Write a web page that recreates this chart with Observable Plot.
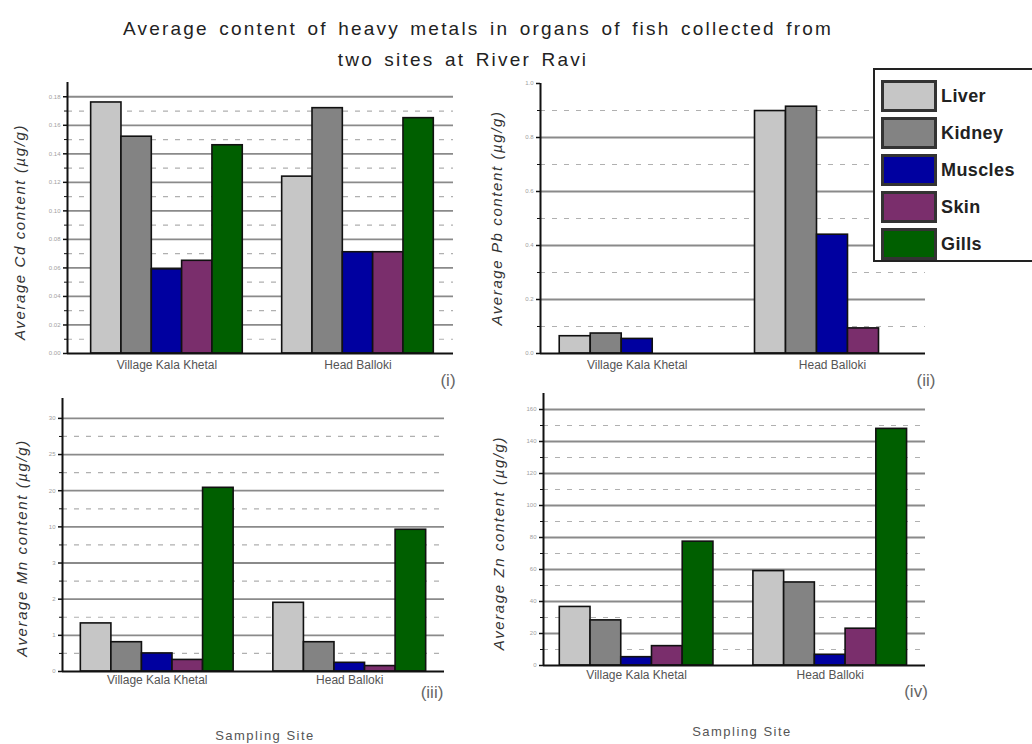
<!DOCTYPE html>
<html>
<head>
<meta charset="utf-8">
<script src="https://cdn.jsdelivr.net/npm/d3@7"></script>
<script src="https://cdn.jsdelivr.net/npm/@observablehq/plot@0.6"></script>
<style>
  html, body { margin: 0; padding: 0; background: #fff; }
  #root { position: relative; width: 1032px; height: 744px; overflow: hidden; background: #fff; font-family: "Liberation Sans", Arial, sans-serif; }
  .abs { position: absolute; }
  .title { font-size: 19px; color: #222; white-space: nowrap; transform: translateX(-50%); letter-spacing: 2.2px; word-spacing: 3px; }
  .ylab { font-size: 15px; font-style: italic; color: #333; white-space: nowrap; transform: translate(-50%, -50%) rotate(-90deg); letter-spacing: 1.6px; }
  .plab { font-size: 17px; color: #666; white-space: nowrap; transform: translate(-50%, -50%); }
  .xlab { font-size: 13px; color: #555; white-space: nowrap; transform: translate(-50%, -50%); letter-spacing: 1.5px; }
  #legend { left: 873px; top: 68px; width: 170px; height: 194px; border: 2px solid #222; background: #fff; box-sizing: border-box; }
  .li { position: absolute; left: 6px; height: 32px; display: flex; align-items: center; }
  .sw { width: 50px; height: 26px; border: 3px solid #333; box-sizing: content-box; margin-right: 4px; }
  .lt { font-size: 18px; font-weight: bold; color: #222; letter-spacing: 0.4px; }
</style>
</head>
<body>
<div id="root"></div>
<script>
// ---------------- data ----------------
const sites = ["Village Kala Khetal", "Head Balloki"];
const organs = ["Liver", "Kidney", "Muscles", "Skin", "Gills"];
const organColors = ["#c6c6c6", "#838383", "#0000a0", "#7a2e6c", "#005f00"];

// Cd (µg/g)
const cdVillage = [0.176, 0.152, 0.059, 0.065, 0.146];
const cdHead    = [0.124, 0.172, 0.071, 0.071, 0.165];
// Pb (µg/g)
const pbVillage = [0.064, 0.074, 0.054, 0, 0];
const pbHead    = [0.898, 0.914, 0.440, 0.093, 0];
// Mn (broken axis: values given in axis-position units, see mnTickLabels)
const mnVillage = [1.33, 0.81, 0.50, 0.32, 5.08];
const mnHead    = [1.90, 0.81, 0.24, 0.15, 3.92];
// Zn (µg/g)
const znVillage = [36.6, 28.2, 5.2, 12.1, 77.4];
const znHead    = [59.0, 51.9, 6.7, 23.0, 147.9];

// tick values / labels
const cdTicks = [0, 0.02, 0.04, 0.06, 0.08, 0.10, 0.12, 0.14, 0.16, 0.18];
const cdMinor = [0.01, 0.03, 0.05, 0.07, 0.09, 0.11, 0.13, 0.15, 0.17];
const pbTicks = [0, 0.2, 0.4, 0.6, 0.8, 1.0];
const pbMinor = [0.1, 0.3, 0.5, 0.7, 0.9];
const mnTicks = [0, 1, 2, 3, 4, 5, 6, 7];
const mnMinor = [0.5, 1.5, 2.5, 3.5, 4.5, 5.5, 6.5];
const mnTickLabels = ["0", "1", "2", "3", "10", "20", "25", "30"];
const znTicks = [0, 20, 40, 60, 80, 100, 120, 140, 160];
const znMinor = [10, 30, 50, 70, 90, 110, 130, 150];

const groupOffset = 6.3; // bar slots between the starts of the two site groups

function rows(village, head) {
  const out = [];
  [village, head].forEach((vals, si) => {
    vals.forEach((v, oi) => out.push({site: sites[si], organ: organs[oi], value: v, pos: oi + si * groupOffset}));
  });
  return out;
}
const siteRows = sites.map((s, si) => ({site: s, center: si * groupOffset + organs.length / 2}));

function panel(cfg) {
  const data = rows(cfg.village, cfg.head);
  return Plot.plot({
    width: cfg.width, height: cfg.height,
    marginLeft: cfg.marginLeft, marginTop: cfg.marginTop, marginRight: cfg.marginRight, marginBottom: cfg.marginBottom,
    style: {background: "transparent", fontFamily: "Liberation Sans, Arial, sans-serif", overflow: "visible"},
    x: {domain: cfg.xDomain, axis: null},
    y: {domain: cfg.yDomain, axis: null},
    color: {domain: organs, range: organColors},
    marks: [
      Plot.gridY(cfg.minor, {stroke: "#b0b0b0", strokeOpacity: 1, strokeWidth: 1.2, strokeDasharray: "5,7"}),
      Plot.gridY(cfg.major.filter(t => t > 0 && t <= cfg.gridMax), {stroke: "#8a8a8a", strokeOpacity: 1, strokeWidth: 1.8}),
      Plot.rectY(data.filter(d => d.value > 0), {x1: "pos", x2: d => d.pos + 1, y1: 0, y2: "value", fill: "organ", stroke: "#111", strokeWidth: 1.6}),
      Plot.ruleY([0], {stroke: "#111", strokeWidth: 2}),
      Plot.axisY(cfg.minor, {anchor: "left", tickSize: 3, tickFormat: () => "", stroke: "#111", label: null}),
      Plot.axisY(cfg.major, {anchor: "left", tickSize: 4, tickPadding: 3, tickFormat: cfg.tickFormat, fontSize: 6, fill: "#a0a0a0", stroke: "#111", strokeWidth: 1.5, label: null}),
      Plot.ruleX([cfg.xDomain[0]], {stroke: "#111", strokeWidth: 2}),
      Plot.text(siteRows, {x: "center", frameAnchor: "bottom", dy: cfg.siteDy, text: "site", fontSize: 12, fill: "#555", letterSpacing: 1.1})
    ]
  });
}

const root = document.getElementById("root");
function place(el, left, top) {
  el.style.position = "absolute"; el.style.left = left + "px"; el.style.top = top + "px";
  root.appendChild(el);
}
function addDiv(cls, text, x, y) {
  const d = document.createElement("div");
  d.className = "abs " + cls;
  d.textContent = text;
  d.style.left = x + "px"; d.style.top = y + "px";
  root.appendChild(d);
  return d;
}

// Panel (i) Cd
place(panel({village: cdVillage, head: cdHead, major: cdTicks, minor: cdMinor, gridMax: 0.18,
  tickFormat: d3.format(".2f"), yDomain: [0, 0.19], xDomain: [-0.78, 11.95],
  width: 470, height: 313, marginLeft: 67, marginTop: 12, marginRight: 17, marginBottom: 30, siteDy: 15}), 0, 70);
// Panel (ii) Pb
place(panel({village: pbVillage, head: pbHead, major: pbTicks, minor: pbMinor, gridMax: 0.8,
  tickFormat: d3.format(".1f"), yDomain: [0, 1.0], xDomain: [-0.62, 11.8],
  width: 465, height: 313, marginLeft: 60, marginTop: 13, marginRight: 20, marginBottom: 30, siteDy: 15}), 480, 70);
// Panel (iii) Mn
place(panel({village: mnVillage, head: mnHead, major: mnTicks, minor: mnMinor, gridMax: 7,
  tickFormat: (d) => mnTickLabels[mnTicks.indexOf(d)], yDomain: [0, 7.55], xDomain: [-0.6, 11.9],
  width: 465, height: 316, marginLeft: 62, marginTop: 13, marginRight: 21, marginBottom: 30, siteDy: 12}), 0, 385);
// Panel (iv) Zn
place(panel({village: znVillage, head: znHead, major: znTicks, minor: znMinor, gridMax: 160,
  tickFormat: d3.format("d"), yDomain: [0, 170], xDomain: [-0.53, 11.9],
  width: 465, height: 315, marginLeft: 63, marginTop: 13, marginRight: 20, marginBottom: 30, siteDy: 13}), 480, 380);

// Title
addDiv("title", "Average content of heavy metals in organs of fish collected from", 478, 18);
addDiv("title", "two sites at  River Ravi", 463, 49);

// Y axis labels
addDiv("ylab", "Average Cd content  (µg/g)", 19, 232);
addDiv("ylab", "Average Pb content  (µg/g)", 496, 218);
addDiv("ylab", "Average Mn content  (µg/g)", 21, 548);
addDiv("ylab", "Average Zn content  (µg/g)", 498, 543);

// Panel tags
addDiv("plab", "(i)", 448, 381);
addDiv("plab", "(ii)", 926, 381);
addDiv("plab", "(iii)", 432, 693);
addDiv("plab", "(iv)", 916, 692);

// Sampling site labels
addDiv("xlab", "Sampling Site", 265, 735);
addDiv("xlab", "Sampling Site", 742, 731);

// Legend
const legend = document.createElement("div");
legend.id = "legend"; legend.className = "abs";
organs.forEach((o, i) => {
  const item = document.createElement("div");
  item.className = "li";
  item.style.top = (10 + i * 37) + "px";
  const sw = document.createElement("div");
  sw.className = "sw"; sw.style.background = organColors[i];
  const t = document.createElement("span");
  t.className = "lt"; t.textContent = o;
  item.appendChild(sw); item.appendChild(t);
  legend.appendChild(item);
});
root.appendChild(legend);
</script>
</body>
</html>
